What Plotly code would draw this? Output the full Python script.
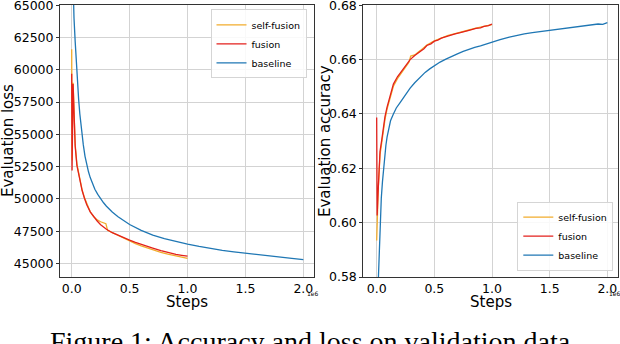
import plotly.graph_objects as go

# steps are in units of 1e6
# --- evaluation loss ---
sf_loss_steps = [0.0, 0.003, 0.012, 0.02, 0.03, 0.045, 0.06, 0.075, 0.09, 0.11, 0.13, 0.16, 0.19, 0.22, 0.25, 0.27, 0.29, 0.295,
                 0.31, 0.35, 0.4, 0.45, 0.5, 0.55, 0.6, 0.65, 0.7, 0.77, 0.83, 0.9, 0.95, 1.0]
sf_loss = [61600, 53000, 59000, 56600, 54200, 52700, 51950, 51300, 50700, 50100, 49600, 49000, 48620, 48370, 48230, 48170, 48120, 48080,
           47560, 47380, 47150, 46930, 46720, 46530, 46360, 46200, 46060, 45860, 45720, 45560, 45470, 45390]

fu_loss_steps = [0.0, 0.003, 0.012, 0.02, 0.03, 0.045, 0.06, 0.075, 0.09, 0.11, 0.13, 0.16, 0.19, 0.22, 0.25, 0.3, 0.35, 0.4,
                 0.45, 0.5, 0.55, 0.6, 0.65, 0.7, 0.77, 0.83, 0.9, 0.95, 1.0]
fu_loss = [59700, 52200, 58900, 56500, 54100, 52600, 51900, 51250, 50650, 50050, 49550, 49000, 48630, 48290, 48000, 47650, 47380, 47170,
           46980, 46800, 46630, 46470, 46330, 46190, 45990, 45850, 45710, 45630, 45560]

bl_loss_steps = [0.005, 0.01, 0.02, 0.03, 0.04, 0.05, 0.06, 0.07, 0.08, 0.09, 0.1, 0.115, 0.13, 0.145, 0.16, 0.18, 0.2, 0.225,
                 0.25, 0.275, 0.3, 0.35, 0.4, 0.45, 0.5, 0.6, 0.7, 0.8, 0.9, 1.0, 1.1, 1.2, 1.3, 1.4, 1.5, 1.6, 1.7, 1.8, 1.9, 2.0]
bl_loss = [69000, 66500, 64000, 62200, 60500, 59000, 57700, 56600, 55700, 54900, 54200, 53300, 52650, 52100, 51650, 51150, 50750, 50350,
           50000, 49700, 49430, 48980, 48620, 48300, 48020, 47560, 47200, 46930, 46700, 46500, 46320, 46160, 46020, 45900, 45790, 45680,
           45580, 45480, 45390, 45300]

# --- evaluation accuracy ---
sf_acc_steps = [0.0, 0.004, 0.01, 0.014, 0.02, 0.029, 0.043, 0.055, 0.072, 0.09, 0.11, 0.145, 0.18, 0.218, 0.25, 0.28,
                0.295, 0.33, 0.38, 0.435, 0.5, 0.56, 0.62, 0.68, 0.725, 0.8, 0.86, 0.93, 1.0]
sf_acc = [0.5934, 0.6030, 0.6085, 0.6130, 0.6180, 0.6250, 0.6292, 0.6330, 0.6380, 0.6418, 0.6448, 0.6502, 0.6530, 0.6553, 0.6572, 0.6590,
          0.6613, 0.6617, 0.6634, 0.6654, 0.6669, 0.6680, 0.6689, 0.6696, 0.6700, 0.6709, 0.6716, 0.6722, 0.6729]

fu_acc_steps = [0.0, 0.004, 0.01, 0.014, 0.02, 0.029, 0.043, 0.055, 0.072, 0.09, 0.11, 0.145, 0.18, 0.218, 0.25, 0.29,
                0.33, 0.36, 0.38, 0.41, 0.435, 0.47, 0.5, 0.53, 0.56, 0.59, 0.62, 0.65, 0.68, 0.725, 0.76, 0.8, 0.83, 0.86, 0.9, 0.93, 0.97, 1.0]
fu_acc = [0.6387, 0.6026, 0.6090, 0.6142, 0.6190, 0.6263, 0.6302, 0.6340, 0.6390, 0.6425, 0.6455, 0.6510, 0.6537, 0.6560, 0.6578, 0.6600,
          0.6615, 0.6624, 0.6632, 0.6640, 0.6652, 0.6658, 0.6668, 0.6672, 0.6679, 0.6683, 0.6688, 0.6692, 0.6695, 0.6699, 0.6704, 0.6708,
          0.6711, 0.6715, 0.6717, 0.6722, 0.6725, 0.6731]

bl_acc_steps = [0.01, 0.015, 0.02, 0.025, 0.03, 0.04, 0.05, 0.06, 0.07, 0.08, 0.09, 0.1, 0.12, 0.145, 0.17, 0.2, 0.23,
                0.26, 0.29, 0.33, 0.37, 0.42, 0.46, 0.5, 0.55, 0.6, 0.65, 0.7, 0.75, 0.8, 0.85, 0.9, 0.95, 1.0, 1.07,
                1.15, 1.2, 1.28, 1.35, 1.42, 1.5, 1.58, 1.65, 1.72, 1.76, 1.85, 1.92, 1.96, 2.0]
bl_acc = [0.574, 0.581, 0.589, 0.596, 0.602, 0.609, 0.615, 0.620, 0.625, 0.6285, 0.6315, 0.634, 0.6375, 0.6400, 0.6422, 0.6440, 0.6458,
          0.6478, 0.6495, 0.6515, 0.6533, 0.6553, 0.6566, 0.6578, 0.6591, 0.6602, 0.6613, 0.6621, 0.6630, 0.6638, 0.6645, 0.6651, 0.6658,
          0.6663, 0.6674, 0.6683, 0.6688, 0.6695, 0.6699, 0.6703, 0.6707, 0.6712, 0.6716, 0.6718, 0.6722, 0.6727, 0.6731, 0.6730, 0.6736]

x_ticks = [0.0, 0.5, 1.0, 1.5, 2.0]
x_ticktext = ["0.0", "0.5", "1.0", "1.5", "2.0"]
loss_ticks = [45000, 47500, 50000, 52500, 55000, 57500, 60000, 62500, 65000]
loss_ticktext = ["45000", "47500", "50000", "52500", "55000", "57500", "60000", "62500", "65000"]
acc_ticks = [0.58, 0.60, 0.62, 0.64, 0.66, 0.68]
acc_ticktext = ["0.58", "0.60", "0.62", "0.64", "0.66", "0.68"]

names = ["self-fusion", "fusion", "baseline"]
colors = ["#f2ac2c", "#e3211c", "#1f77b4"]

W, H = 620, 344
FONT = "DejaVu Sans"

def px_x(p):
    return p / W

def px_y(p):
    return 1 - p / H

fig = go.Figure()

loss_data = [(sf_loss_steps, sf_loss), (fu_loss_steps, fu_loss), (bl_loss_steps, bl_loss)]
acc_data = [(sf_acc_steps, sf_acc), (fu_acc_steps, fu_acc), (bl_acc_steps, bl_acc)]

for (xs, ys), name, c in zip(loss_data, names, colors):
    fig.add_trace(go.Scatter(x=xs, y=ys, mode="lines", name=name, line=dict(color=c, width=1.3),
                             xaxis="x", yaxis="y", legend="legend"))
for (xs, ys), name, c in zip(acc_data, names, colors):
    fig.add_trace(go.Scatter(x=xs, y=ys, mode="lines", name=name, line=dict(color=c, width=1.3),
                             xaxis="x2", yaxis="y2", legend="legend2"))

axis_style = dict(showgrid=True, gridcolor="#d3d3d3", gridwidth=1, showline=True, linecolor="#333333",
                  linewidth=1, mirror=True, ticks="outside", ticklen=3, tickcolor="#333333", automargin=False,
                  ticklabeloverflow="allow", tickfont=dict(family=FONT, size=12.5, color="black"), zeroline=False)
# x axes: labels sit close to the spine, tick marks come from an overlaid label-less axis
xlabel_style = dict(axis_style, ticks="")
xmark_style = dict(showgrid=False, showline=False, zeroline=False, showticklabels=False, ticks="outside",
                   ticklen=3, tickcolor="#333333", automargin=False)

xdom1 = [px_x(60), px_x(314)]
xdom2 = [px_x(363.3), px_x(617.5)]
xrange1 = [-0.101, 2.092]
xrange2 = [-0.116, 2.088]
ydom = [px_y(277), px_y(5)]
legend_style = dict(bgcolor="rgba(255,255,255,0.85)", bordercolor="#d5d5d5", borderwidth=1,
                    font=dict(family=FONT, size=9.5, color="black"), tracegroupgap=0, itemwidth=30)
fig.update_layout(
    width=W, height=H, margin=dict(l=0, r=0, t=0, b=0, autoexpand=False),
    paper_bgcolor="white", plot_bgcolor="white",
    xaxis=dict(domain=xdom1, range=xrange1, tickvals=x_ticks, ticktext=x_ticktext, anchor="y", **xlabel_style),
    yaxis=dict(domain=ydom, range=[43950, 65020], tickvals=loss_ticks, ticktext=loss_ticktext, anchor="x", **axis_style),
    xaxis2=dict(domain=xdom2, range=xrange2, tickvals=x_ticks, ticktext=x_ticktext, anchor="y2", **xlabel_style),
    yaxis2=dict(domain=ydom, range=[0.58, 0.6801], tickvals=acc_ticks, ticktext=acc_ticktext, anchor="x2", **axis_style),
    xaxis3=dict(overlaying="x", anchor="y", range=xrange1, tickvals=x_ticks, side="bottom", **xmark_style),
    xaxis4=dict(overlaying="x2", anchor="y2", range=xrange2, tickvals=x_ticks, side="bottom", **xmark_style),
    legend=dict(x=px_x(306.5), y=px_y(9.3), xanchor="right", yanchor="top", **legend_style),
    legend2=dict(x=px_x(613.3), y=px_y(270.7), xanchor="right", yanchor="bottom", **legend_style),
    showlegend=True,
)

title_font = dict(family=FONT, size=15, color="black")
annotations = [
    dict(text="Evaluation loss", x=px_x(8), y=px_y(141), textangle=-90, font=title_font),
    dict(text="Evaluation accuracy", x=px_x(325), y=px_y(141), textangle=-90, font=title_font),
    dict(text="Steps", x=px_x(187), y=px_y(302), font=title_font),
    dict(text="Steps", x=px_x(491), y=px_y(302), font=title_font),
    dict(text="1e6", x=px_x(313), y=px_y(293), font=dict(family=FONT, size=6, color="black")),
    dict(text="1e6", x=px_x(615), y=px_y(293), font=dict(family=FONT, size=6, color="black")),
    dict(text="Figure 1: Accuracy and loss on validation data.", x=px_x(313.5), y=px_y(325), yanchor="top",
         font=dict(family="Liberation Serif", size=28, color="black")),
]
for a in annotations:
    a.setdefault("xanchor", "center")
    a.setdefault("yanchor", "middle")
    fig.add_annotation(xref="paper", yref="paper", showarrow=False, borderpad=0, **a)

# page body has a default 8px margin; drop it so the figure sits at the top-left corner
fig.write_html("out.html", config={"displayModeBar": False},
               post_script="document.body.style.margin='0';")
